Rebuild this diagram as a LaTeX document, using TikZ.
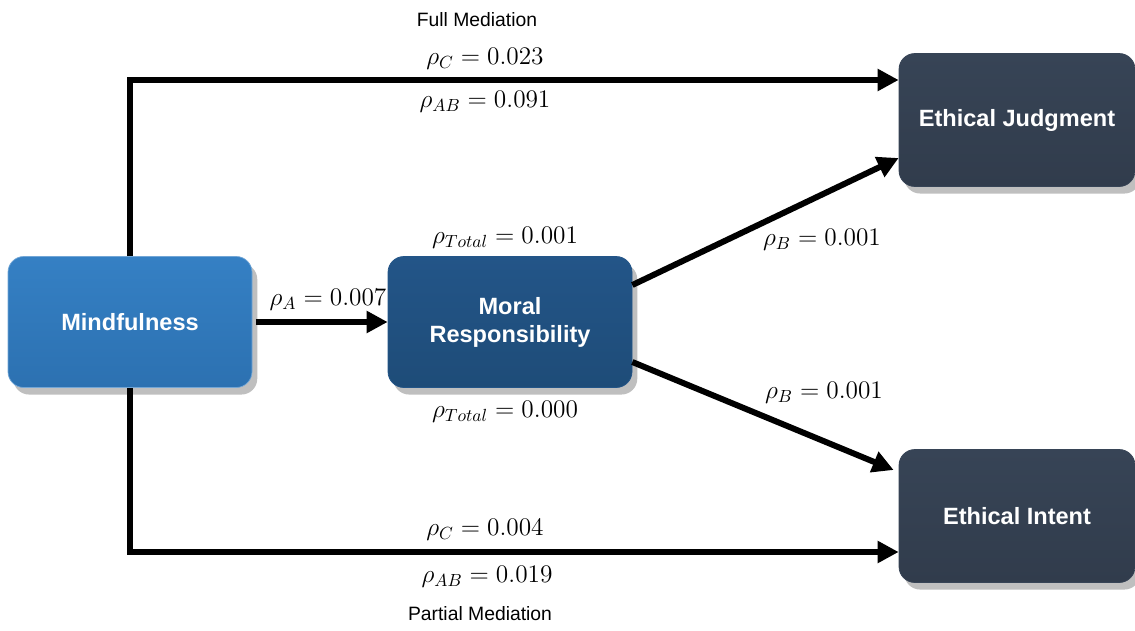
\documentclass[tikz,border=0pt]{standalone}
\usepackage{fontspec}
\usepackage{xcolor}
\usetikzlibrary{arrows.meta,positioning,shadows}
\newfontfamily\arialfont{Liberation Sans}

\definecolor{mindtop}{HTML}{3580C4}
\definecolor{mindbot}{HTML}{2C71B1}
\definecolor{moraltop}{HTML}{235588}
\definecolor{moralbot}{HTML}{1E4C78}
\definecolor{ethictop}{HTML}{374456}
\definecolor{ethicbot}{HTML}{313C4C}

\tikzset{
  box/.style={rectangle, rounded corners=9pt, minimum width=4.88cm, minimum height=2.62cm,
    text=white, align=center, font=\arialfont\bfseries\fontsize{13.4}{16}\selectfont,
    drop shadow={shadow xshift=3pt, shadow yshift=-4pt, opacity=0.25, fill=black}},
  link/.style={line width=3.4pt, -{Triangle[length=12pt,width=12pt]}},
  val/.style={font=\fontsize{13.8}{16}\selectfont},
  note/.style={font=\arialfont\fontsize{11}{13}\selectfont}
}

\begin{document}
\begin{tikzpicture}
\useasboundingbox (0,0) rectangle (22.7,12.6);

% boxes
\node[box, top color=mindtop, bottom color=mindbot, draw=mindtop!70!white] (mind) at (2.60,6.16) {Mindfulness};
\node[box, top color=moraltop, bottom color=moralbot, draw=moraltop] (moral) at (10.20,6.16) {Moral\\Responsibility};
\node[box, minimum width=4.72cm, minimum height=2.66cm, top color=ethictop, bottom color=ethicbot, draw=ethictop] (judg) at (20.34,10.20) {Ethical Judgment};
\node[box, minimum width=4.72cm, minimum height=2.66cm, top color=ethictop, bottom color=ethicbot, draw=ethictop] (intent) at (20.34,2.28) {Ethical Intent};

% paths
\draw[link] (mind.north) |- ([yshift=8mm]judg.west);
\draw[link] (mind.south) |- ([yshift=-7.2mm]intent.west);
\draw[link, shorten <=2pt] (mind.east) -- (moral.west);
\draw[link] ([yshift=7.4mm]moral.east) -- ([yshift=-7.6mm]judg.west);
\draw[link] ([yshift=-8mm]moral.east) -- ([xshift=-1mm,yshift=9.2mm]intent.west);

% labels
\node[note] (full) at (9.54,12.20) {Full Mediation};
\node[val] (c1) at (9.70,11.42) {$\rho_C = 0.023$};
\node[val] (ab1) at (9.70,10.56) {$\rho_{AB} = 0.091$};
\node[val] (tot1) at (10.10,7.84) {$\rho_{Total} = 0.001$};
\node[val] (tot2) at (10.10,4.36) {$\rho_{Total} = 0.000$};
\node[val] (a) at (6.56,6.60) {$\rho_A = 0.007$};
\node[val] (b1) at (16.44,7.80) {$\rho_B = 0.001$};
\node[val] (b2) at (16.48,4.74) {$\rho_B = 0.001$};
\node[val] (c2) at (9.70,2.00) {$\rho_C = 0.004$};
\node[val] (ab2) at (9.74,1.06) {$\rho_{AB} = 0.019$};
\node[note] (part) at (9.60,0.32) {Partial Mediation};
\end{tikzpicture}
\end{document}
